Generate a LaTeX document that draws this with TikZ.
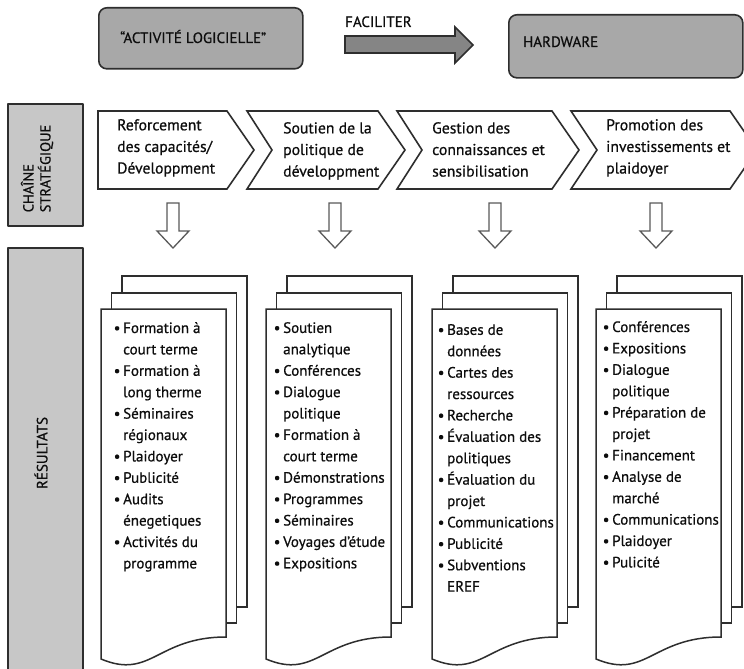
\documentclass[tikz,border=0pt]{standalone}
\usepackage{fontspec}
\setmainfont{PT Sans}[FakeBold=0.6]
% bullet with a fixed hanging indent, and the matching indent for wrapped lines
\newcommand\bul{\makebox[9.5pt][l]{\textbullet}}
\newcommand\cnt{\hspace*{9.5pt}}
\begin{document}
\begin{tikzpicture}[x=1pt,y=-1pt,
  ink/.style={draw=black!82, line width=1.6pt, line join=round},
  topbox/.style={ink, fill=black!34, rounded corners=8pt, anchor=north west, inner sep=0pt},
  sidebox/.style={ink, fill=black!22, anchor=north west, inner sep=0pt},
  chev/.style={ink, fill=white, line join=miter},
  downarrow/.style={draw=black!65, line width=1.3pt, fill=white, line join=miter},
  sheet/.style={draw=black!82, line width=1.5pt, fill=white, line join=miter},
  caps/.style={font=\fontsize{15}{17}\selectfont, text=black!95, inner sep=0pt},
  steptext/.style={font=\fontsize{15.7}{21.6}\selectfont, text=black!95, align=left, anchor=north west, inner sep=0pt},
  listtext/.style={font=\fontsize{15}{21.4}\selectfont, text=black!95, align=left, anchor=north west, inner sep=0pt},
]
\useasboundingbox (0,0) rectangle (744,669);
\clip (0,0) rectangle (744,669);

% top row: software activity -> hardware
\node[topbox, minimum width=204pt, minimum height=61pt] (soft) at (98,7) {};
\node[caps, anchor=base west] (softtext) at (120,43) {“ACTIVITÉ LOGICIELLE”};
\node[topbox, minimum width=234pt, minimum height=63pt] (hard) at (508,14) {};
\node[caps, anchor=base west] (hardtext) at (523,47) {HARDWARE};
\draw[ink, fill=black!48, line join=miter] (345,36) -- (455,36) -- (455,27) -- (473,45) -- (455,63) -- (455,53) -- (345,53) -- cycle;
\node[caps, anchor=base west] (facil) at (345,27) {FACILITER};

% side headings
\node[sidebox, minimum width=75pt, minimum height=122pt] (chainbox) at (7,103) {};
\node[caps, rotate=90, align=left, font=\fontsize{14.5}{17}\selectfont] (chaintext) at (37,168.5) {CHAÎNE\\STRATÉGIQUE};
\node[sidebox, minimum width=75pt, minimum height=425pt] (resbox) at (7,247) {};
\node[caps, rotate=90] (restext) at (41,453) {RÉSULTATS};

% strategic chain
\draw[chev] (98,111) -- (227,111) -- (254,150) -- (227,189) -- (98,189) -- cycle;
\draw[chev] (247,111) -- (378,111) -- (405,150) -- (378,189) -- (247,189) -- (272,150) -- cycle;
\draw[chev] (397,111) -- (552,111) -- (579,150) -- (552,189) -- (397,189) -- (422,150) -- cycle;
\draw[chev] (571,111) -- (730,111) -- (757,150) -- (730,189) -- (571,189) -- (597,150) -- cycle;
\node[steptext] (s1) at (117,119) {Reforcement\\des capacités/\\Développment};
\node[steptext] (s2) at (283,122) {Soutien de la\\politique de\\développment};
\node[steptext] (s3) at (432,122) {Gestion des\\connaissances et\\sensibilisation};
\node[steptext] (s4) at (606,119) {Promotion des\\investissements et\\plaidoyer};

% hollow arrows down to the results
\foreach \cx in {173,335,495,656}
  \draw[downarrow] (\cx-6,203) -- (\cx+6,203) -- (\cx+6,231) -- (\cx+16,231) -- (\cx,248) -- (\cx-16,231) -- (\cx-6,231) -- cycle;

% stacked result sheets
\foreach \L in {101,266,432,596} {
  \draw[sheet] (\L+21,276) rectangle (\L+146,607);
  \draw[sheet] (\L+10.5,293) rectangle (\L+135.5,623);
  \draw[sheet] (\L,309) -- (\L+125,309) -- (\L+125,637) .. controls (\L+56,637) and (\L+50,680) .. (\L,659) -- cycle;
}

\node[listtext] (r1) at (113.5,322) {\bul Formation à\\\cnt court terme\\\bul Formation à\\\cnt long therme\\\bul Séminaires\\\cnt régionaux\\\bul Plaidoyer\\\bul Publicité\\\bul Audits\\\cnt énegetiques\\\bul Activités du\\\cnt programme};
\node[listtext] (r2) at (273.5,322) {\bul Soutien\\\cnt analytique\\\bul Conférences\\\bul Dialogue\\\cnt politique\\\bul Formation à\\\cnt court terme\\\bul Démonstrations\\\bul Programmes\\\bul Séminaires\\\bul Voyages d’étude\\\bul Expositions};
\node[listtext] (r3) at (437.5,324) {\bul Bases de\\\cnt données\\\bul Cartes des\\\cnt ressources\\\bul Recherche\\\bul Évaluation des\\\cnt politiques\\\bul Évaluation du\\\cnt projet\\\bul Communications\\\bul Publicité\\\bul Subventions\\\cnt EREF};
\node[listtext] (r4) at (602.5,321) {\bul Conférences\\\bul Expositions\\\bul Dialogue\\\cnt politique\\\bul Préparation de\\\cnt projet\\\bul Financement\\\bul Analyse de\\\cnt marché\\\bul Communications\\\bul Plaidoyer\\\bul Pulicité};
\end{tikzpicture}
\end{document}
